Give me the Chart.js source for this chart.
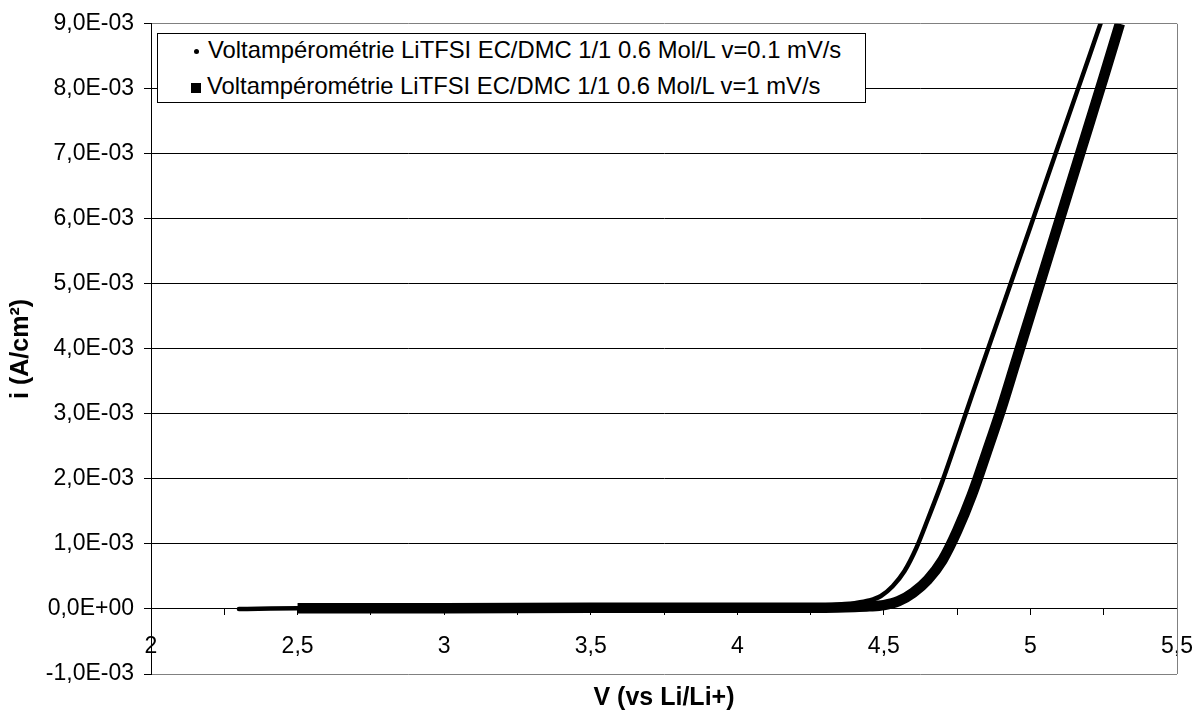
<!DOCTYPE html>
<html>
<head>
<meta charset="utf-8">
<script src="https://cdn.jsdelivr.net/npm/chart.js@4/dist/chart.umd.min.js"></script>
<style>
body{margin:0;background:#fff;}
#cadre{position:relative;width:1195px;height:724px;}
#legende{position:absolute;left:157px;top:33px;width:709px;height:70px;border:1px solid #000;background:#fff;
 font-family:"Liberation Sans",Arial,sans-serif;font-size:23.8px;color:#000;box-sizing:border-box;}
.ligne{position:absolute;left:0;height:30px;line-height:30px;white-space:nowrap;}
.marque{display:inline-block;vertical-align:middle;background:#000;margin-right:6px;}
</style>
</head>
<body>
<div id="cadre">
<canvas id="grafico"></canvas>
<div id="legende"></div>
</div>
<script>
// donnees (V vs Li/Li+, i en A/cm2)
var nomsSeries=['Voltampérométrie LiTFSI EC/DMC 1/1 0.6 Mol/L v=0.1 mV/s','Voltampérométrie LiTFSI EC/DMC 1/1 0.6 Mol/L v=1 mV/s'];
var vLent=[2.30,2.50,3.00,3.50,4.00,4.20,4.30,4.35,4.40,4.45,4.49,4.53,4.57,4.61,4.65,4.70,4.75,4.80,4.90,5.00,5.10,5.20,5.239];
var iLent=[0,0.00001,0.00001,0.00002,0.00003,0.00004,0.00005,0.00007,0.00009,0.00013,0.0002,0.00035,0.00058,0.00093,0.00138,0.00197,0.00262,0.00328,0.00458,0.00588,0.00719,0.00849,0.009];
var vRapide=[2.50,3.00,3.50,4.00,4.30,4.40,4.45,4.50,4.55,4.60,4.65,4.70,4.75,4.80,4.85,4.90,4.95,5.00,5.05,5.10,5.15,5.20,5.25,5.305];
var iRapide=[0.00001,0.00001,0.00002,0.00002,0.00002,0.00003,0.00004,0.00006,0.00012,0.00025,0.00045,0.00075,0.0012,0.00175,0.0024,0.00307,0.0038,0.00453,0.00526,0.00599,0.00672,0.00745,0.00818,0.009];
var ticksX=[2,2.5,3,3.5,4,4.5,5,5.5];
var ticksY=[-0.001,0,0.001,0.002,0.003,0.004,0.005,0.006,0.007,0.008,0.009];

function enPoints(xs,ys){
  var pts=[];
  for(let i=0;i<xs.length;i++){ pts.push({x:xs[i],y:ys[i]}); }
  return pts;
}

function formatE(v){
  var s=Math.abs(v)<1e-12 ? (0).toExponential(1) : v.toExponential(1);
  var p=s.split('e');
  var e=parseInt(p[1],10);
  var ex=(e<0?'-':'+')+(Math.abs(e)<10?'0':'')+Math.abs(e);
  return p[0].replace('.',',')+'E'+ex;
}

var police='"Liberation Sans", Arial, sans-serif';

// bord droit gris du cadre
var bordDroit={
  id:'bordDroit',
  beforeDatasetsDraw:function(chart){
    var a=chart.chartArea, c=chart.ctx;
    c.save();
    c.strokeStyle='#808080';
    c.lineWidth=1;
    c.beginPath();
    c.moveTo(Math.round(a.right)+0.5,a.top);
    c.lineTo(Math.round(a.right)+0.5,a.bottom);
    c.stroke();
    c.restore();
  }
};

var ctx=document.getElementById('grafico').getContext('2d');
var grafico=new Chart(ctx,{
  type:'scatter',
  data:{
    datasets:[{
      label:nomsSeries[0],
      data:enPoints(vLent,iLent),
      showLine:true,
      borderColor:'#000',
      backgroundColor:'#000',
      borderWidth:4.5,
      borderCapStyle:'round',
      pointRadius:0,
      cubicInterpolationMode:'monotone'
    },{
      label:nomsSeries[1],
      data:enPoints(vRapide,iRapide),
      showLine:true,
      borderColor:'#000',
      backgroundColor:'#000',
      borderWidth:10.5,
      borderCapStyle:'butt',
      pointRadius:0,
      cubicInterpolationMode:'monotone'
    }]
  },
  options:{
    responsive:true,
    maintainAspectRatio:false,
    animation:false,
    layout:{padding:{left:0,right:18,top:23,bottom:0}},
    plugins:{legend:{display:false},tooltip:{enabled:false}},
    scales:{
      x:{
        type:'linear',
        position:{y:0},
        min:2,max:5.5,
        afterBuildTicks:function(s){
          var t=[];
          for(let i=0;i<ticksX.length;i++){
            t.push({value:ticksX[i]});
            if(i<ticksX.length-1){ t.push({value:ticksX[i]+0.25}); }
          }
          s.ticks=t;
        },
        // le padding des etiquettes ne doit pas retrecir la zone du graphique
        afterFit:function(s){ s.paddingLeft=0; s.paddingRight=0; },
        ticks:{
          autoSkip:false,maxRotation:0,padding:18,color:'#000',
          font:{family:police,size:23},
          callback:function(v){
            if(ticksX.indexOf(v)<0) return '';
            return String(v).replace('.',',');
          }
        },
        grid:{drawOnChartArea:false,drawTicks:true,tickLength:6,tickColor:'#000'},
        border:{display:true,color:'#000',width:1}
      },
      xt:{
        type:'linear',
        position:'bottom',
        min:2,max:5.5,
        afterFit:function(s){ s.height=50; },
        ticks:{display:false},
        grid:{display:false},
        border:{display:false},
        title:{display:true,text:'V (vs Li/Li+)',color:'#000',font:{family:police,size:25,weight:'bold'},padding:{top:0,bottom:11}}
      },
      y:{
        type:'linear',
        position:'left',
        min:-0.001,max:0.009,
        afterFit:function(s){ s.width=151; },
        afterBuildTicks:function(s){ s.ticks=ticksY.map(function(v){return {value:v};}); },
        ticks:{color:'#000',padding:10,font:{family:police,size:23},callback:function(v){return formatE(v);}},
        grid:{
          color:function(c){
            if(c.tick && (Math.abs(c.tick.value-0.009)<1e-9 || Math.abs(c.tick.value+0.001)<1e-9)) return '#808080';
            return '#000';
          },
          tickColor:'#000',tickLength:7,lineWidth:1
        },
        border:{display:true,color:'#000',width:1},
        title:{display:true,text:'i (A/cm²)',color:'#000',font:{family:police,size:25,weight:'bold'},padding:{top:6,bottom:0}}
      }
    }
  },
  plugins:[bordDroit]
});

// legende dans le graphique
var legende=document.getElementById('legende');
var tailles=[[5,5,'50%'],[10,10,'0']];
for(let i=0;i<nomsSeries.length;i++){
  var l=document.createElement('div');
  l.className='ligne';
  l.style.top=(i===0?1:37)+'px';
  l.style.left=(i===0?36:33)+'px';
  var m=document.createElement('span');
  m.className='marque';
  m.style.width=tailles[i][0]+'px';
  m.style.height=tailles[i][1]+'px';
  m.style.borderRadius=tailles[i][2];
  if(i===0){ m.style.marginRight='9px'; }
  l.appendChild(m);
  l.appendChild(document.createTextNode(nomsSeries[i]));
  legende.appendChild(l);
}
</script>
</body>
</html>
